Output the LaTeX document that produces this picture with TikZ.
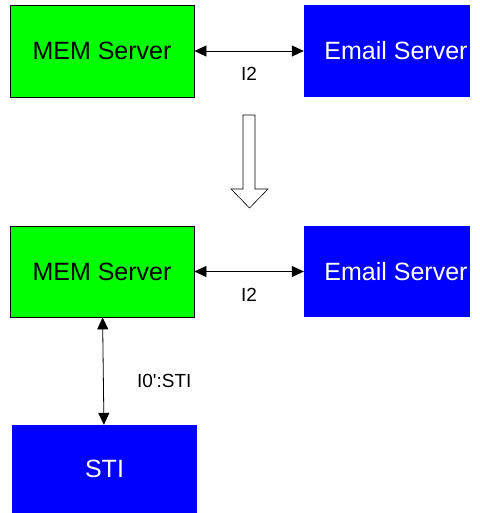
\documentclass[tikz,border=0pt]{standalone}
\usepackage{fontspec}
\setmainfont{Liberation Sans}
\usepackage{tikz}
\usetikzlibrary{positioning}
\usetikzlibrary{arrows.meta}

\begin{document}
\begin{tikzpicture}[x=1pt, y=-1pt,
    greenbox/.style={draw=black, line width=0.8pt, fill={rgb,255:red,0;green,255;blue,0},
      minimum width=184pt, minimum height=92pt, inner sep=0pt,
      font=\fontsize{25}{30}\selectfont},
    bluebox/.style={fill={rgb,255:red,0;green,0;blue,255}, text=white,
      minimum width=166pt, minimum height=92pt, inner sep=0pt,
      font=\fontsize{25}{30}\selectfont},
    lbl/.style={font=\fontsize{19}{23}\selectfont},
    dblarrow/.style={line width=0.8pt, {Triangle[length=12pt,width=11pt]}-{Triangle[length=12pt,width=11pt]}}]
  \useasboundingbox (0, 0) rectangle (479, 513);

  % Before
  \node[greenbox] (mem1) at (102, 51) {MEM Server};
  \node[bluebox] (email1) at (387, 51) {\hspace*{18pt}Email Server};
  \draw[dblarrow] (mem1) -- node[lbl, below=13pt] (lbl1) {I2} (email1);

  % Transition arrow
  \coordinate (turn) at (249, 115);
  \draw[line width=0.6pt, fill=white] (turn) ++(-6, 0) -- ++(12, 0) -- ++(0, 74) --
    ++(13, 0) -- ++(-18.5, 19) -- ++(-18.5, -19) -- ++(12, 0) -- cycle;

  % After
  \node[greenbox, minimum height=91pt] (mem2) at (102, 271.5) {MEM Server};
  \node[bluebox, minimum height=91pt] (email2) at (387, 271.5) {\hspace*{18pt}Email Server};
  \node[bluebox, minimum width=185pt, minimum height=88pt] (sti) at (104.5, 469) {STI};
  \draw[dblarrow] (mem2) -- node[lbl, below=13pt] (lbl2) {I2} (email2);
  \draw[dblarrow] (mem2) -- node[lbl, right=30pt, pos=0.59] (lbl3) {I0\textquotesingle:STI} (sti);
\end{tikzpicture}
\end{document}
